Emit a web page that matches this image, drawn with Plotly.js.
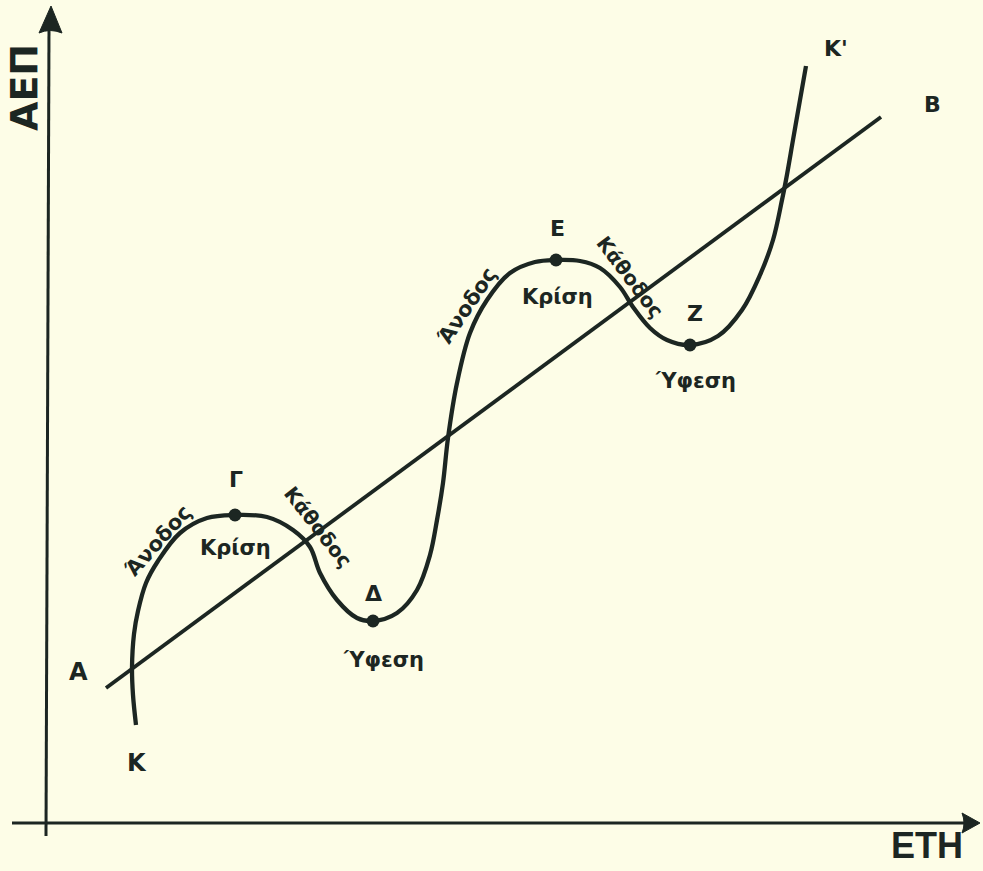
<!DOCTYPE html>
<html>
<head>
<meta charset="utf-8">
<script src="https://cdn.plot.ly/plotly-3.0.1.min.js"></script>
<style>html,body{margin:0;padding:0;background:#fdfde7;}#chart{width:983px;height:871px;}</style>
</head>
<body>
<div id="chart"></div>
<script>
// Economic cycle curve K–K' (x = time, y = GDP, in drawing units)
const cycleX = [136,133,132,134,138,146,158,180,207,235,267,293,310,320,337,357,373,397,417,430,437,443,448,457,470,487,510,535,556,580,600,620,633,650,667,690,718,742,760,773,782,786,793,800,806];
const cycleY = [146,176,203,237,260,288,310,338,353,356,354,341,324,298,271,253,250,258,281,316,351,388,433,488,538,571,598,609,611,610,603,584,564,543,531,526,535,561,596,631,671,691,731,771,805];
// Trend line A–B
const trendX = [106, 881];
const trendY = [183, 754];
// Turning points Γ, Δ, E, Z
const turnNames = ["Γ","Δ","Ε","Ζ"];
const turnX = [235, 373, 556, 690];
const turnY = [356, 250, 611, 526];

const ink = "#1c2622";
const bg = "#fdfde7";
const F = "DejaVu Sans, sans-serif";

const traces = [
  {x: trendX, y: trendY, mode: "lines", line: {color: ink, width: 3.8}, hoverinfo: "skip"},
  {x: cycleX, y: cycleY, mode: "lines", line: {color: ink, width: 4.3, shape: "spline", smoothing: 1}, hoverinfo: "skip"},
  {x: turnX, y: turnY, mode: "markers", marker: {color: ink, size: 13}, text: turnNames, hoverinfo: "text"}
];

function lab(text, x, y, size, angle, fam, yanc) {
  return {text: text, x: x, y: y, xref: "x", yref: "y", showarrow: false,
    textangle: angle || 0, xanchor: "center", yanchor: yanc || "middle",
    font: {family: fam || F, size: size, color: ink, weight: 700}};
}

const annotations = [
  lab("ΑΕΠ", 24, 871-88, 38, -90),
  lab("ΕΤΗ", 927, 3, 36, 0, "Liberation Sans, Arial, sans-serif", "bottom"),
  lab("Κ'", 836, 871-48, 22, 0),
  lab("Β", 932, 871-104, 22, 0),
  lab("Α", 78, 871-672, 24, 0),
  lab("Κ", 137, 871-763, 24, 0),
  lab("Γ", 236, 871-479, 22, 0),
  lab("Δ", 373, 871-593, 22, 0),
  lab("Ε", 557, 871-228, 22, 0),
  lab("Ζ", 695, 871-313, 22, 0),
  lab("Κρίση", 235, 871-548, 21, 0),
  lab("Κρίση", 557, 871-297, 21, 0),
  lab("Ύφεση", 383, 871-660, 21, 0),
  lab("Ύφεση", 695, 871-381, 21, 0),
  lab("Άνοδος", 158, 871-541, 21, -48),
  lab("Άνοδος", 467, 871-306, 21, -56),
  lab("Κάθοδος", 318, 871-527, 20, 52),
  lab("Κάθοδος", 630, 871-277, 20, 53)
];

const shapes = [
  {type: "line", xref: "x", yref: "y", x0: 46, y0: 871-836, x1: 49, y1: 871-28, line: {color: ink, width: 3}},
  {type: "path", xref: "x", yref: "y", path: "M 39 " + (871-33) + " L 51 " + (871-6) + " L 62 " + (871-33) + " Q 50 " + (871-28) + " 39 " + (871-33) + " Z", fillcolor: ink, line: {color: ink, width: 1}},
  {type: "line", xref: "x", yref: "y", x0: 12, y0: 871-823, x1: 968, y1: 871-823, line: {color: ink, width: 3}},
  {type: "path", xref: "x", yref: "y", path: "M 962 " + (871-813) + " L 980 " + (871-823) + " L 962 " + (871-833) + " Q 966 " + (871-823) + " 962 " + (871-813) + " Z", fillcolor: ink, line: {color: ink, width: 1}}
];

const layout = {
  width: 983, height: 871,
  margin: {l: 0, r: 0, t: 0, b: 0},
  paper_bgcolor: bg, plot_bgcolor: bg,
  showlegend: false,
  xaxis: {range: [0, 983], visible: false, fixedrange: true},
  yaxis: {range: [0, 871], visible: false, fixedrange: true},
  annotations: annotations,
  shapes: shapes
};

Plotly.newPlot("chart", traces, layout, {displayModeBar: false, staticPlot: true});
</script>
</body>
</html>
